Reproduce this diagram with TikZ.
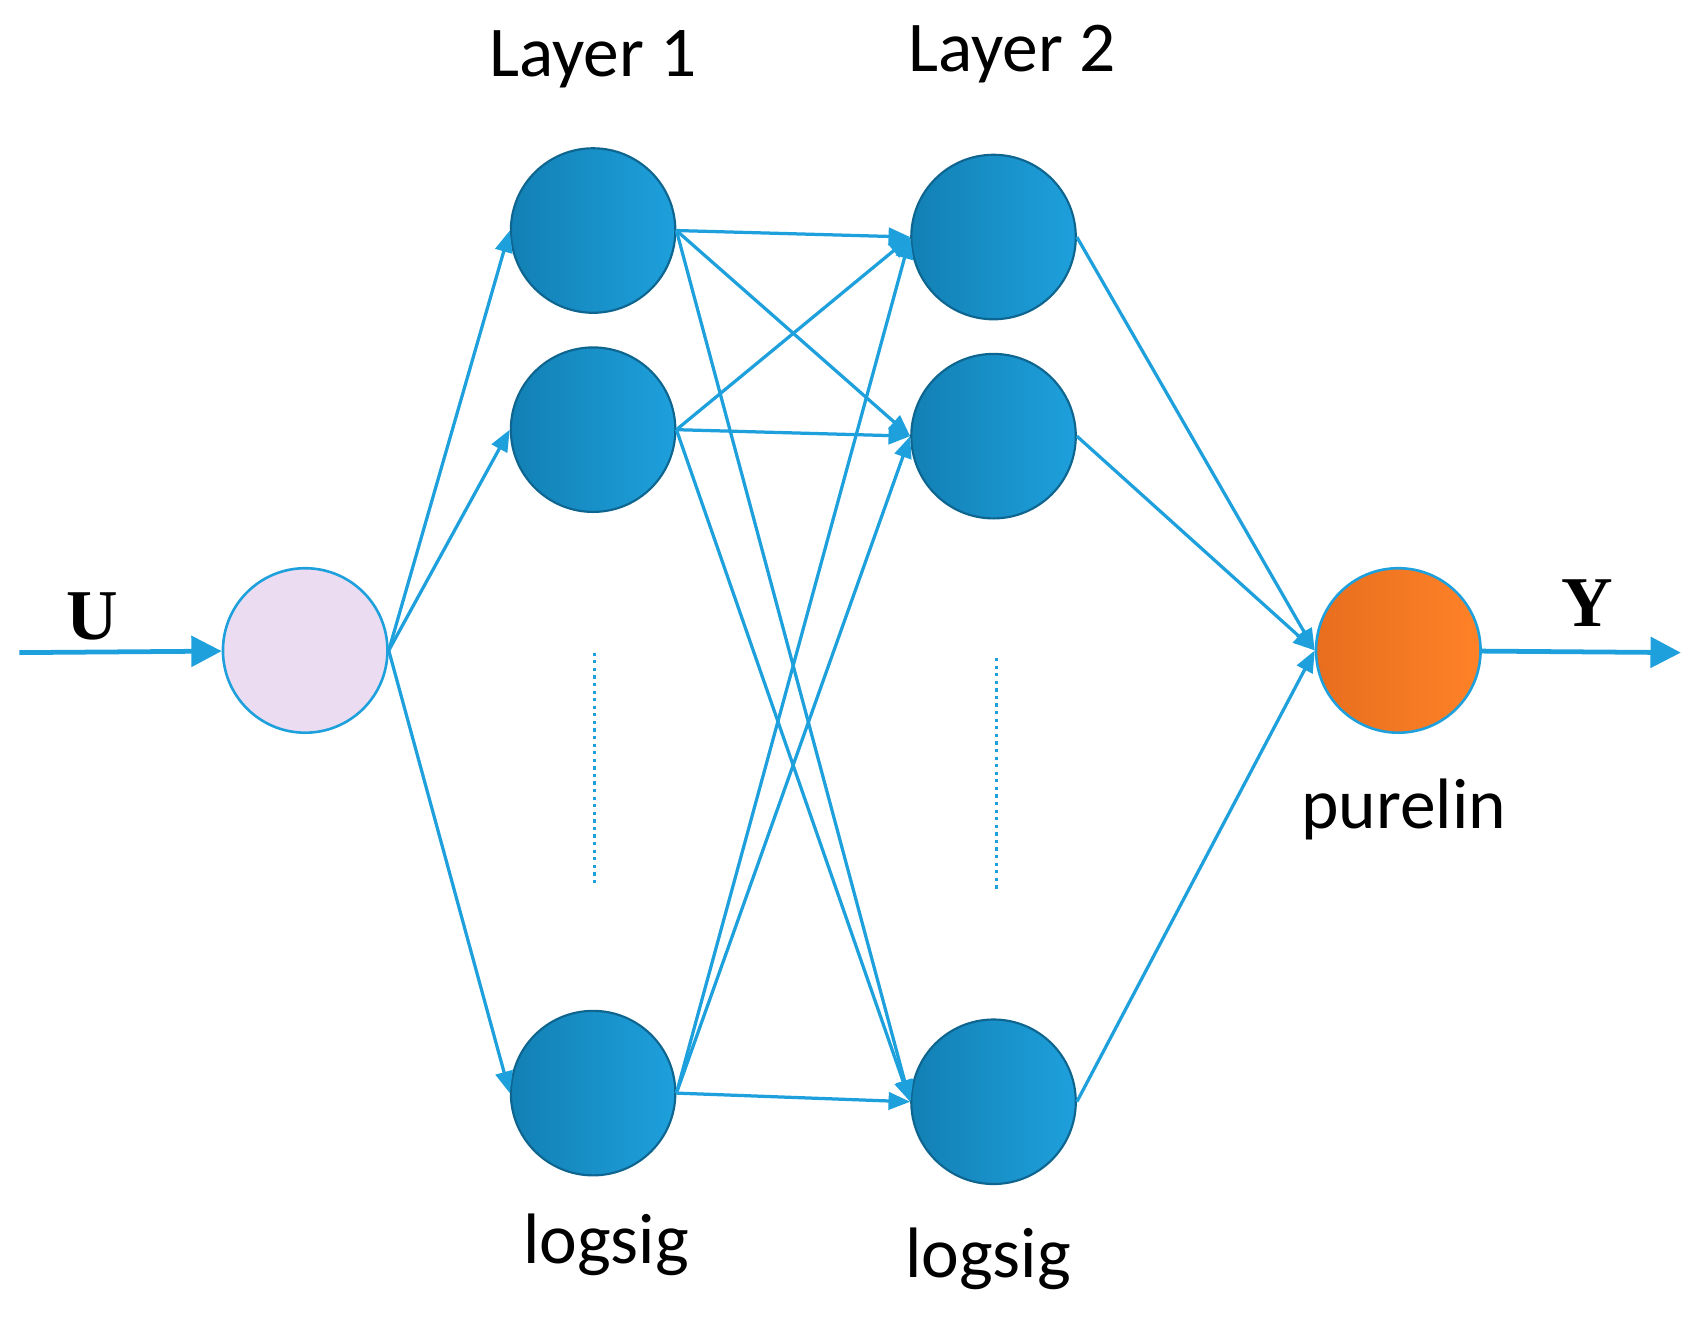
\documentclass[tikz,border=0pt]{standalone}
\usepackage{fontspec}
\setmainfont{Carlito}
\usetikzlibrary{arrows.meta}
\definecolor{ln}{RGB}{30,160,220}
\definecolor{nd1}{RGB}{18,128,180}
\definecolor{nd2}{RGB}{30,160,220}
\begin{document}
\begin{tikzpicture}[x=0.5pt,y=-0.5pt,
  neu/.style={circle,minimum size=76pt,inner sep=0,draw=nd1!80!black,line width=1pt,left color=nd1,right color=nd2},
  inp/.style={circle,minimum size=76pt,inner sep=0,draw=ln,line width=1.2pt,fill={rgb,255:red,236;green,220;blue,242}},
  outn/.style={circle,minimum size=76pt,inner sep=0,draw=ln,line width=1.2pt,left color={rgb,255:red,232;green,110;blue,30},right color={rgb,255:red,255;green,130;blue,40}},
  e/.style={draw=ln,line width=1.5pt,-{Triangle[length=10pt,width=8pt]}},
  big/.style={draw=ln,line width=2.2pt,-{Triangle[length=14pt,width=14pt]}},
  lbl/.style={font=\fontsize{33}{38}\selectfont}]
\useasboundingbox (0,0) rectangle (1568,1222);
\node[inp] (in) at (282,601) {};
\node[neu] (a1) at (548,213) {};
\node[neu] (a2) at (548,397) {};
\node[neu] (a3) at (548,1010) {};
\node[neu] (b1) at (918,219) {};
\node[neu] (b2) at (918,403) {};
\node[neu] (b3) at (918,1018) {};
\node[outn] (o) at (1292,601) {};
\coordinate (s) at (18,603);
\coordinate (t) at (1553,603);
\draw[big] (s) -- (in);
\draw[big] (o) -- (t);
\foreach \a in {a1,a2,a3} \draw[e] (in.east) -- (\a.west);
\foreach \a in {a1,a2,a3} \foreach \b in {b1,b2,b3} \draw[e] (\a.east) -- (\b.west);
\foreach \b in {b1,b2,b3} \draw[e] (\b.east) -- (o.west);
\draw[ln,line width=1.5pt,dotted] (549,603) -- (549,820);
\draw[ln,line width=1.5pt,dotted] (921,608) -- (921,825);
\node[lbl] (l1) at (548,55) {Layer 1};
\node[lbl] (l2) at (935,50) {Layer 2};
\node[lbl] (g1) at (560,1150) {logsig};
\node[lbl] (g2) at (913,1163) {logsig};
\node[lbl] (p) at (1297,748) {purelin};
\node[font=\fontspec{Liberation Serif}\bfseries\fontsize{33}{38}\selectfont] (U) at (85,570) {U};
\node[font=\fontspec{Liberation Serif}\bfseries\fontsize{33}{38}\selectfont] (Y) at (1467,557) {Y};
\end{tikzpicture}
\end{document}
